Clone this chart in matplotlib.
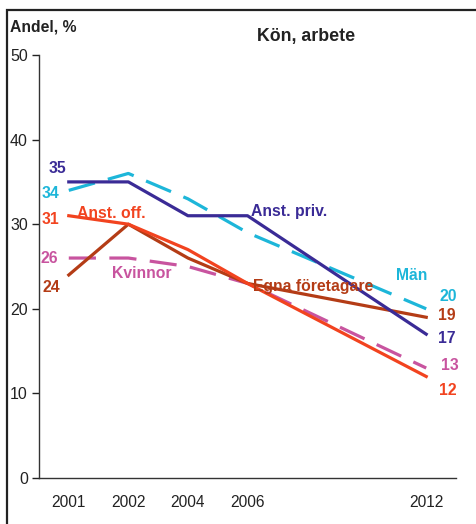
import matplotlib
matplotlib.use("Agg")
import matplotlib.pyplot as plt
from matplotlib.patches import Rectangle

plt.rcParams['font.family'] = ['Liberation Sans', 'DejaVu Sans']

years = ["2001", "2002", "2004", "2006", "2012"]
xpos = [0, 1, 2, 3, 6]

anst_priv = [35, 35, 31, 31, 17]
man = [34, 36, 33, 29, 20]
anst_off = [31, 30, 27, 23, 12]
egna = [24, 30, 26, 23, 19]
kvinnor = [26, 26, 25, 23, 13]

c_priv = "#3a2b96"
c_man = "#1db6d9"
c_off = "#f2431f"
c_egna = "#b43c16"
c_kv = "#c8549f"

fig = plt.figure(figsize=(4.76, 5.24), dpi=100)
ax = fig.add_axes([39/476, 46/524, (456-39)/476, (478-55)/524])

lw = 2.3
ax.plot(xpos, man, color=c_man, lw=lw, linestyle=(0, (8.5, 4.2)))
ax.plot(xpos, kvinnor, color=c_kv, lw=lw, linestyle=(0, (8.5, 4.2)))
ax.plot(xpos, egna, color=c_egna, lw=lw)
ax.plot(xpos, anst_off, color=c_off, lw=lw)
ax.plot(xpos, anst_priv, color=c_priv, lw=lw)

ax.set_xlim(-0.5, 6.5)
ax.set_ylim(0, 50)
ax.set_yticks([0, 10, 20, 30, 40, 50])
ax.set_xticks(xpos)
ax.set_xticklabels(years)
ax.tick_params(axis='y', length=5, width=1, labelsize=11.5, colors='#222222', pad=3)
ax.tick_params(axis='x', length=0, labelsize=11.2, colors='#222222', pad=12)
for s in ['top', 'right']:
    ax.spines[s].set_visible(False)
for s in ['left', 'bottom']:
    ax.spines[s].set_color('#333333')
    ax.spines[s].set_linewidth(1)

fs = 11.3
def lab(x, y, t, c, ha='center'):
    ax.text(x, y, t, color=c, fontsize=fs, fontweight='bold', ha=ha, va='center')

# start labels
lab(-0.19, 36.6, "35", c_priv)
lab(-0.31, 33.6, "34", c_man)
lab(-0.31, 30.6, "31", c_off)
lab(-0.32, 26.0, "26", c_kv)
lab(-0.30, 22.5, "24", c_egna)
# end labels
lab(6.37, 21.5, "20", c_man)
lab(6.35, 19.2, "19", c_egna)
lab(6.35, 16.5, "17", c_priv)
lab(6.4, 13.3, "13", c_kv)
lab(6.37, 10.3, "12", c_off)
# series names
lab(0.72, 31.3, "Anst. off.", c_off)
lab(3.7, 31.5, "Anst. priv.", c_priv)
lab(1.22, 24.2, "Kvinnor", c_kv)
lab(4.1, 22.6, "Egna företagare", c_egna)
lab(5.75, 23.9, "Män", c_man)

fig.text(306/476, 1 - 37/524, "Kön, arbete", fontsize=12.8, fontweight='bold',
         ha='center', va='center', color='#222222')
fig.text(10/476, 1 - 27/524, "Andel, %", fontsize=11.3, fontweight='bold',
         ha='left', va='center', color='#222222')

fig.patches.append(Rectangle((7/476, -0.1), 1.0, 1 - 10/524 + 0.1,
                             transform=fig.transFigure, fill=False,
                             edgecolor='#222222', lw=1.6, clip_on=False))

fig.savefig("out.png", dpi=100)
